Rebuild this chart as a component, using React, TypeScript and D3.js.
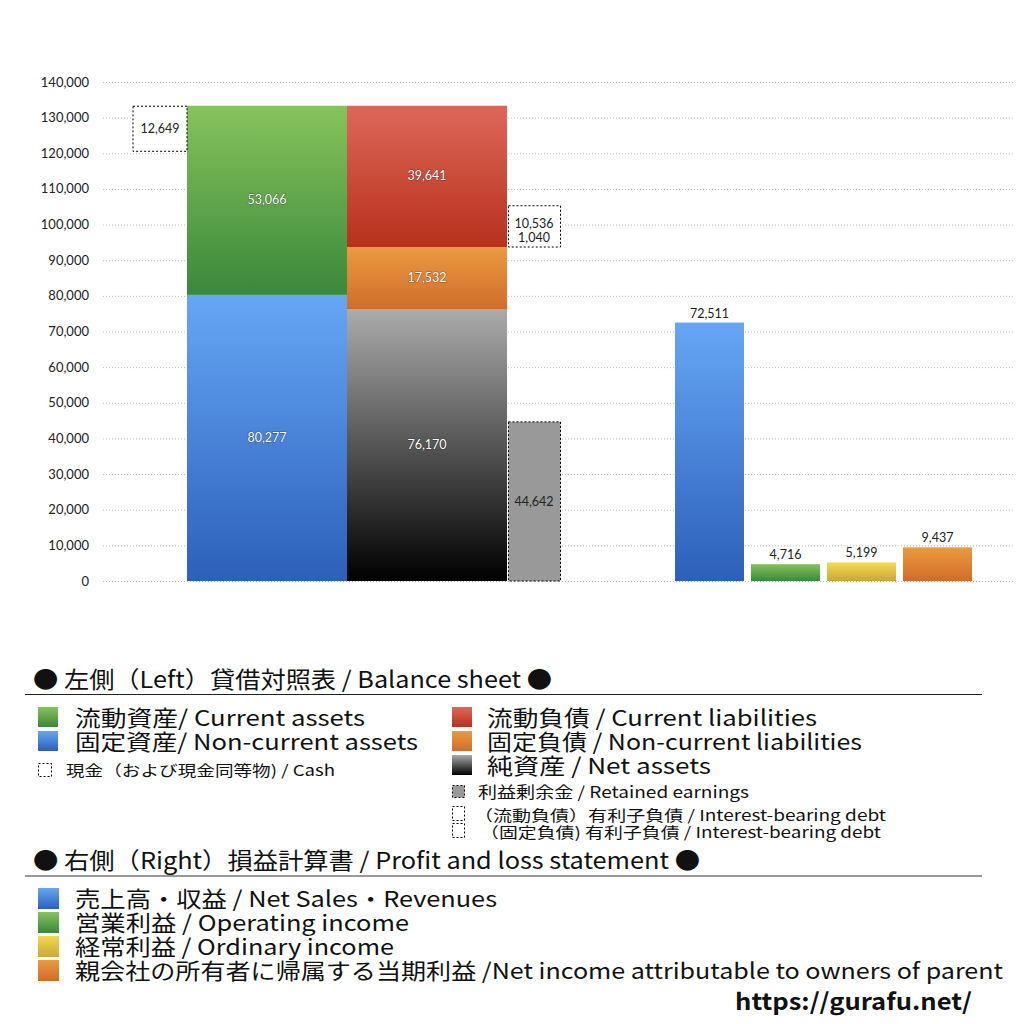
import * as d3 from 'd3';
import React from 'react';

// balance sheet (left)
const assetLabels = ['固定資産', '流動資産'];
const assetValues = [80277, 53066];
const liabilityLabels = ['純資産', '固定負債', '流動負債'];
const liabilityValues = [76170, 17532, 39641];
const cashValue = 12649;
const retainedEarnings = 44642;
const debtValues = [10536, 1040];

// profit and loss (right)
const plLabels = ['売上高・収益', '営業利益', '経常利益', '当期利益'];
const plValues = [72511, 4716, 5199, 9437];

const yTicks = d3.range(0, 140001, 10000);

const gradients: Record<string, [string, string]> = {
  blue: ['#66a6f5', '#2c60ba'],
  green: ['#86c35b', '#3a883b'],
  red: ['#de675a', '#b7311b'],
  orange: ['#ea9b40', '#d06c2b'],
  black: ['#ababab', '#000000'],
  yellow: ['#f2da4e', '#c9a73a'],
  gray: ['#9a9a9a', '#9a9a9a'],
};

const assetColors = ['blue', 'green'];
const liabilityColors = ['black', 'orange', 'red'];
const plColors = ['blue', 'green', 'yellow', 'orange'];

const fmt = d3.format(',');
const chartFont = 'Lato, "Open Sans", sans-serif';
const jpFont = '"Noto Sans CJK JP", "Noto Sans", sans-serif';

const y = d3.scaleLinear().domain([0, 140000]).range([581, 82]);
const xLeft = d3.scaleBand<string>().domain(['assets', 'liabilities']).range([187, 507]).padding(0);
const xRight = d3.scaleBand<string>().domain(plLabels).range([675, 972]).paddingInner(0.092).paddingOuter(0);

function stack(values: number[]) {
  let acc = 0;
  return values.map(v => {
    const s = { y0: acc, y1: acc + v, v };
    acc += v;
    return s;
  });
}

const shadow = { paintOrder: 'stroke' as const };

const Legend = () => {
  const sq = (x: number, yy: number, c: string, s = 20) => (
    <rect x={x} y={yy} width={s} height={s} fill={`url(#g-${c})`} />
  );
  const dash = (x: number, yy: number, w: number, h: number, fill = 'white') => (
    <rect x={x} y={yy} width={w} height={h} fill={fill} stroke="#000" strokeWidth={1} strokeDasharray="2,2" />
  );
  const t = (x: number, yy: number, s: string, size: number, len: number, weight = 400) => (
    <text x={x} y={yy} fontSize={size} fontFamily={jpFont} fontWeight={weight} textLength={len} lengthAdjust="spacingAndGlyphs" fill="#111">{s}</text>
  );
  return (
    <g>
      {t(33, 688, '● 左側（Left）貸借対照表 / Balance sheet ●', 23, 519)}
      <line x1={25} x2={982} y1={694.5} y2={694.5} stroke="#222" strokeWidth={1.2} />
      {sq(38, 707, 'green')}
      {t(75, 726, '流動資産/ Current assets', 22, 290)}
      {sq(38, 731, 'blue')}
      {t(75, 750, '固定資産/ Non-current assets', 22, 343)}
      {dash(38.5, 763.5, 13, 13)}
      {t(66, 776, '現金（および現金同等物) / Cash', 15, 269)}

      {sq(452, 707, 'red')}
      {t(487, 726, '流動負債 /  Current liabilities', 22, 330)}
      {sq(452, 731, 'orange')}
      {t(487, 750, '固定負債 / Non-current liabilities', 22, 375)}
      {sq(452, 755, 'black')}
      {t(487, 774, '純資産 / Net assets', 22, 224)}
      {dash(452.5, 785.5, 12, 12, '#999')}
      {t(478, 798, '利益剰余金 / Retained earnings', 16, 271)}
      {dash(452.5, 806.5, 12, 14)}
      {t(474, 821, '（流動負債）有利子負債 / Interest-bearing debt', 15, 412)}
      {dash(452.5, 823.5, 12, 14)}
      {t(480, 838, '（固定負債) 有利子負債 / Interest-bearing debt', 15, 401)}

      {t(33, 869, '● 右側（Right）損益計算書 / Profit and loss statement ●', 23, 667)}
      <line x1={25} x2={982} y1={876} y2={876} stroke="#777" strokeWidth={1.5} />
      {sq(38, 888, 'blue', 21)}
      {t(75, 907, '売上高・収益 / Net Sales・Revenues', 22, 422)}
      {sq(38, 912, 'green', 21)}
      {t(75, 931, '営業利益 / Operating income', 22, 334)}
      {sq(38, 936, 'yellow', 21)}
      {t(75, 955, '経常利益 / Ordinary income', 22, 319)}
      {sq(38, 960, 'orange', 21)}
      {t(75, 979, '親会社の所有者に帰属する当期利益 /Net income attributable to owners of parent', 22, 928)}
      {t(735, 1010, 'https://gurafu.net/', 23, 237, 700)}
    </g>
  );
};

const App: React.FC = () => {
  const assets = stack(assetValues);
  const liabilities = stack(liabilityValues);
  const assetTop = d3.sum(assetValues);
  const ncTop = liabilityValues[0] + liabilityValues[1];
  const debtSum = d3.sum(debtValues);
  const ax = xLeft('assets') as number;
  const lx = xLeft('liabilities') as number;
  const bw = xLeft.bandwidth();

  return (
    <svg width={1024} height={1024} style={{ position: 'absolute', left: 0, top: 0, background: '#fff' }}>
      <defs>
        {Object.entries(gradients).map(([k, [c0, c1]]) => (
          <linearGradient key={k} id={`g-${k}`} x1="0" y1="0" x2="0" y2="1">
            <stop offset="0" stopColor={c0} />
            <stop offset="1" stopColor={c1} />
          </linearGradient>
        ))}
      </defs>
      <rect width={1024} height={1024} fill="#fff" />

      {/* grid + y axis */}
      {yTicks.map(t => (
        <g key={t}>
          <line x1={103} x2={1015} y1={y(t) + 0.5} y2={y(t) + 0.5} stroke="#bcbcbc" strokeWidth={1} strokeDasharray="1,2" />
          <text x={89} y={y(t) + 4.5} textAnchor="end" fontSize={13} fontFamily={chartFont} fill="#222">{fmt(t)}</text>
        </g>
      ))}

      {/* assets */}
      {assets.map((s, i) => (
        <g key={assetLabels[i]}>
          <rect x={ax} y={y(s.y1)} width={bw} height={y(s.y0) - y(s.y1)} fill={`url(#g-${assetColors[i]})`} />
          <text x={ax + bw / 2} y={(y(s.y0) + y(s.y1)) / 2 + 4} textAnchor="middle" fontSize={12.5} fontFamily={chartFont} fill="#fff" stroke="rgba(0,0,0,0.35)" strokeWidth={1.2} style={shadow}>{fmt(s.v)}</text>
        </g>
      ))}

      {/* liabilities + net assets */}
      {liabilities.map((s, i) => (
        <g key={liabilityLabels[i]}>
          <rect x={lx} y={y(s.y1)} width={bw} height={y(s.y0) - y(s.y1)} fill={`url(#g-${liabilityColors[i]})`} />
          <text x={lx + bw / 2} y={(y(s.y0) + y(s.y1)) / 2 + 4} textAnchor="middle" fontSize={12.5} fontFamily={chartFont} fill="#fff" stroke="rgba(0,0,0,0.35)" strokeWidth={1.2} style={shadow}>{fmt(s.v)}</text>
        </g>
      ))}

      {/* cash box */}
      <rect x={ax - 54} y={y(assetTop) + 0.5} width={54} height={y(assetTop - cashValue) - y(assetTop)} fill="#fff" stroke="#000" strokeDasharray="2,2" />
      <text x={ax - 27} y={(y(assetTop) + y(assetTop - cashValue)) / 2 + 5} textAnchor="middle" fontSize={12.5} fontFamily={chartFont} fill="#222">{fmt(cashValue)}</text>

      {/* retained earnings */}
      <rect x={lx + bw + 1.5} y={y(retainedEarnings)} width={52} height={y(0) - y(retainedEarnings)} fill="#999" stroke="#000" strokeDasharray="2,2" />
      <text x={lx + bw + 27} y={(y(0) + y(retainedEarnings)) / 2 + 5} textAnchor="middle" fontSize={12.5} fontFamily={chartFont} fill="#222">{fmt(retainedEarnings)}</text>

      {/* interest-bearing debt box */}
      <rect x={lx + bw + 1.5} y={y(ncTop + debtSum)} width={52} height={y(ncTop) - y(ncTop + debtSum)} fill="#fff" stroke="#000" strokeDasharray="2,2" />
      {debtValues.map((d, i) => (
        <text key={i} x={lx + bw + 27} y={y(ncTop + debtSum) + 22 + i * 14} textAnchor="middle" fontSize={12.5} fontFamily={chartFont} fill="#222">{fmt(d)}</text>
      ))}

      {/* P&L bars */}
      {plValues.map((v, i) => {
        const x = xRight(plLabels[i]) as number;
        return (
          <g key={plLabels[i]}>
            <rect x={x} y={y(v)} width={xRight.bandwidth()} height={y(0) - y(v)} fill={`url(#g-${plColors[i]})`} />
            <text x={x + xRight.bandwidth() / 2} y={y(v) - 5} textAnchor="middle" fontSize={12.5} fontFamily={chartFont} fill="#222">{fmt(v)}</text>
          </g>
        );
      })}

      <Legend />
    </svg>
  );
};

export default App;
